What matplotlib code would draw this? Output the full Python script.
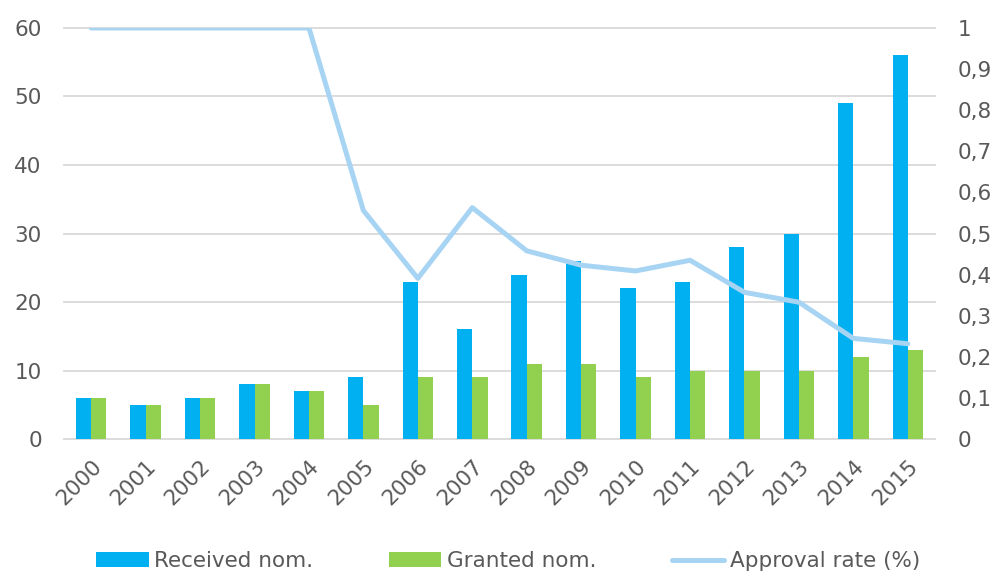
import matplotlib.pyplot as plt
import numpy as np
from matplotlib.ticker import FuncFormatter

years = [str(y) for y in range(2000, 2016)]
received = [6, 5, 6, 8, 7, 9, 23, 16, 24, 26, 22, 23, 28, 30, 49, 56]
granted = [6, 5, 6, 8, 7, 5, 9, 9, 11, 11, 9, 10, 10, 10, 12, 13]
approval = [1.0, 1.0, 1.0, 1.0, 1.0, 0.556, 0.391, 0.563, 0.458, 0.423,
            0.409, 0.435, 0.357, 0.333, 0.245, 0.232]

plt.rcParams['font.family'] = 'DejaVu Sans'
grey = '#595959'
fs = 15.5

fig = plt.figure(figsize=(10, 5.71), dpi=100)
ax = fig.add_axes([0.064, 0.231, 0.871, 0.72])
ax2 = ax.twinx()

x = np.arange(len(years))
w = 0.28
ax.bar(x - w / 2, received, w, color='#00B0F0', label='Received nom.', zorder=2)
ax.bar(x + w / 2, granted, w, color='#92D050', label='Granted nom.', zorder=2)
ax2.plot(x, approval, color='#A8D4F4', lw=3.6, label='Approval rate (%)',
         solid_capstyle='round', zorder=3)

ax.set_xlim(-0.5, len(years) - 0.5)
ax.set_ylim(0, 60)
ax.set_yticks(range(0, 61, 10))
ax2.set_ylim(0, 1)
ax2.set_yticks(np.arange(0, 1.01, 0.1))
ax2.yaxis.set_major_formatter(FuncFormatter(
    lambda v, p: '0' if v == 0 else ('1' if abs(v - 1) < 1e-9 else f'{v:.1f}'.replace('.', ','))))

ax.grid(axis='y', color='#d9d9d9', lw=1.3, zorder=0)
for gl in ax.yaxis.get_gridlines():
    gl.set_clip_on(False)
ax.set_axisbelow(True)
for a in (ax, ax2):
    for s in a.spines.values():
        s.set_visible(False)
    a.tick_params(length=0, labelsize=fs, colors=grey)
ax.tick_params(axis='y', pad=16)
ax2.tick_params(axis='y', pad=16)
ax.set_xticks(x)
ax.set_xticklabels(years, rotation=45, ha='right', rotation_mode='anchor')
ax.tick_params(axis='x', pad=12)

h1, l1 = ax.get_legend_handles_labels()
h2, l2 = ax2.get_legend_handles_labels()
fig.legend(h1 + h2, l1 + l2, loc='lower center', bbox_to_anchor=(0.508, -0.034),
           ncol=3, frameon=False, fontsize=fs, labelcolor=grey,
           handlelength=2.45, handleheight=0.65, handletextpad=0.25,
           columnspacing=3.5)

fig.savefig('out.png', dpi=100)
